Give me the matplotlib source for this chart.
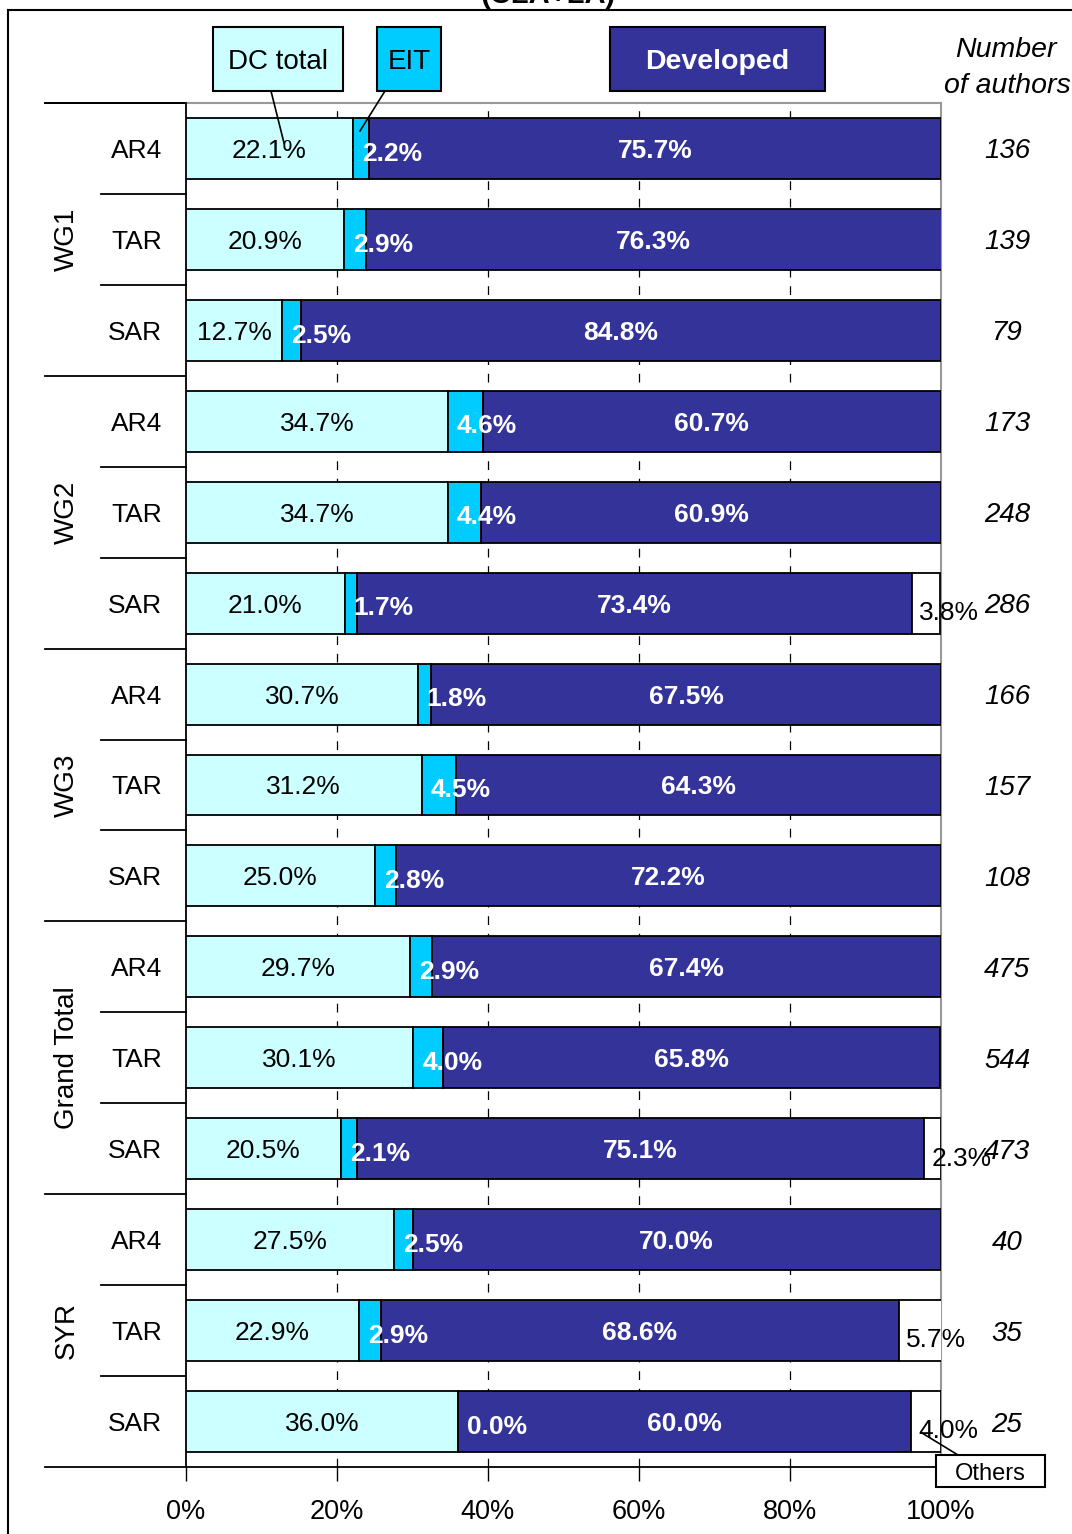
import matplotlib
matplotlib.use("Agg")
import matplotlib.pyplot as plt
from matplotlib.lines import Line2D
from matplotlib.patches import Rectangle
import numpy as np

plt.rcParams['font.family'] = ['Liberation Sans', 'DejaVu Sans']

# ---------------- data ----------------
groups = ["WG1", "WG2", "WG3", "Grand Total", "SYR"]
reports = ["AR4", "TAR", "SAR"]
dc_total = [22.1, 20.9, 12.7, 34.7, 34.7, 21.0, 30.7, 31.2, 25.0, 29.7, 30.1, 20.5, 27.5, 22.9, 36.0]
eit = [2.2, 2.9, 2.5, 4.6, 4.4, 1.7, 1.8, 4.5, 2.8, 2.9, 4.0, 2.1, 2.5, 2.9, 0.0]
developed = [75.7, 76.3, 84.8, 60.7, 60.9, 73.4, 67.5, 64.3, 72.2, 67.4, 65.8, 75.1, 70.0, 68.6, 60.0]
others = [0, 0, 0, 0, 0, 3.8, 0, 0, 0, 0, 0, 2.3, 0, 5.7, 4.0]
n_authors = [136, 139, 79, 173, 248, 286, 166, 157, 108, 475, 544, 473, 40, 35, 25]
x_ticks = [0, 20, 40, 60, 80, 100]
x_ticklabels = ["0%", "20%", "40%", "60%", "80%", "100%"]

C_DC = "#CCFFFF"
C_EIT = "#00CCFF"
C_DEV = "#333399"
C_OTH = "#FFFFFF"

W, H = 1072, 1534
fig = plt.figure(figsize=(W / 100, H / 100), dpi=100)

def fx(px):
    return px / W

def fy(py):
    return 1 - py / H

ax_left, ax_right, ax_top, ax_bot = 186, 941, 103, 1467
ax = fig.add_axes([fx(ax_left), fy(ax_bot), (ax_right - ax_left) / W, (ax_bot - ax_top) / H])

n = len(dc_total)
y = np.arange(n)
dc = np.array(dc_total)
ei = np.array(eit)
dv = np.array(developed)
ot = np.array(others)
bh = 0.67
lw = 1.3

ax.barh(y, dc, height=bh, color=C_DC, edgecolor="black", linewidth=lw, zorder=3)
ax.barh(y, ei, left=dc, height=bh, color=C_EIT, edgecolor="black", linewidth=lw, zorder=3)
ax.barh(y, dv, left=dc + ei, height=bh, color=C_DEV, edgecolor="black", linewidth=lw, zorder=3)
mask = ot > 0
ax.barh(y[mask], ot[mask], left=(dc + ei + dv)[mask], height=bh, color=C_OTH,
        edgecolor="black", linewidth=lw, zorder=3)

ax.set_xlim(0, 100)
ax.set_ylim(n - 0.5, -0.5)
ax.set_xticks(x_ticks)
ax.set_xticklabels(x_ticklabels)
ax.set_yticks([])
ax.tick_params(axis="x", direction="out", length=10, width=1, labelsize=19.5, pad=13, color="black")

ax.set_axisbelow(True)
ax.xaxis.grid(True, linestyle=(0, (7, 7)), color="black", linewidth=0.9)
gls = ax.get_xgridlines()
gls[0].set_visible(False)
gls[-1].set_visible(False)

for side in ["top", "right"]:
    ax.spines[side].set_color("#999999")
    ax.spines[side].set_linewidth(1.5)
ax.spines["left"].set_color("black")
ax.spines["left"].set_linewidth(1.3)
ax.spines["bottom"].set_color("black")
ax.spines["bottom"].set_linewidth(1.3)

# ---------------- labels in bars ----------------
fs = 19
for i in range(n):
    ax.text(dc[i] / 2, y[i], f"{dc[i]:.1f}%", ha="center", va="center_baseline", fontsize=fs,
            color="black", zorder=5)
    ax.text(dc[i] + 1.2, y[i] + 0.03, f"{ei[i]:.1f}%", ha="left", va="center_baseline", fontsize=fs,
            color="white", fontweight="bold", zorder=5)
    ax.text(dc[i] + ei[i] + dv[i] / 2, y[i], f"{dv[i]:.1f}%", ha="center", va="center_baseline",
            fontsize=fs, color="white", fontweight="bold", zorder=5)
    if ot[i] > 0:
        ax.text(dc[i] + ei[i] + dv[i] + 1.0, y[i] + 0.08, f"{ot[i]:.1f}%", ha="left",
                va="center_baseline", fontsize=fs, color="black", zorder=5, clip_on=False)
    ax.text((1007 - ax_left) / (ax_right - ax_left), y[i], f"{n_authors[i]}",
            transform=ax.get_yaxis_transform(), ha="center", va="center_baseline", fontsize=20,
            style="italic", color="black", clip_on=False)

# ---------------- category axis ----------------
ytr = ax.get_yaxis_transform()
axw = ax_right - ax_left
x_rep = (162 - ax_left) / axw
x_grp = (67 - ax_left) / axw
x_long = (45 - ax_left) / axw
x_short = (101 - ax_left) / axw
for gi, g in enumerate(groups):
    for ri, r in enumerate(reports):
        k = gi * 3 + ri
        ax.text(x_rep, k, r, transform=ytr, ha="right", va="center_baseline", fontsize=19,
                clip_on=False)
    ax.text(x_grp, gi * 3 + 1, g, transform=ytr, ha="center", va="center", fontsize=20,
            rotation=90, clip_on=False)
    top = gi * 3 - 0.5
    ax.add_line(Line2D([x_long, 0], [top, top], transform=ytr, color="black", lw=1.3, clip_on=False))
    for s in (1, 2):
        yy = gi * 3 + s - 0.5
        ax.add_line(Line2D([x_short, 0], [yy, yy], transform=ytr, color="black", lw=1.3, clip_on=False))
ax.add_line(Line2D([x_long, 0], [n - 0.5, n - 0.5], transform=ytr, color="black", lw=1.3, clip_on=False))

# ---------------- legend boxes ----------------
def box(x0, y0, x1, y1, fc, text, tc="black", bold=False, size=20):
    fig.add_artist(Rectangle((fx(x0), fy(y1)), fx(x1) - fx(x0), fy(y0) - fy(y1),
                             transform=fig.transFigure, facecolor=fc, edgecolor="black", lw=1.5))
    fig.text(fx((x0 + x1) / 2), fy((y0 + y1) / 2), text, ha="center", va="center_baseline",
             fontsize=size, color=tc, fontweight="bold" if bold else "normal")

def leader(x0, y0, x1, y1):
    fig.add_artist(Line2D([fx(x0), fx(x1)], [fy(y0), fy(y1)], transform=fig.transFigure,
                          color="black", lw=1.2, zorder=10))

box(213, 27, 343, 91, C_DC, "DC total")
box(377, 27, 441, 91, C_EIT, "EIT")
box(610, 27, 825, 91, C_DEV, "Developed", tc="white", bold=True, size=20.5)
leader(271, 91, 284, 143)
leader(385, 91, 360, 131)
box(936, 1455, 1045, 1487, C_OTH, "Others", size=17)
leader(922, 1433, 958, 1455)

fig.text(fx(1006), fy(47), "Number", ha="center", va="center_baseline", fontsize=20.5, style="italic")
fig.text(fx(1007), fy(83), "of authors", ha="center", va="center_baseline", fontsize=20.5, style="italic")

# extension of the top axis line to the left
fig.add_artist(Line2D([fx(45), fx(186)], [fy(103), fy(103)], transform=fig.transFigure, color="black", lw=1.3))

# outer frame and cut title
fig.add_artist(Line2D([fx(8), 1], [fy(10), fy(10)], transform=fig.transFigure, color="black", lw=1.5))
fig.add_artist(Line2D([fx(8), fx(8)], [fy(10), 0], transform=fig.transFigure, color="black", lw=1.5))
fig.text(fx(548), fy(3), "(CLA+LA)", ha="center", va="baseline", fontsize=21, fontweight="bold")

fig.savefig("out.png", dpi=100)
